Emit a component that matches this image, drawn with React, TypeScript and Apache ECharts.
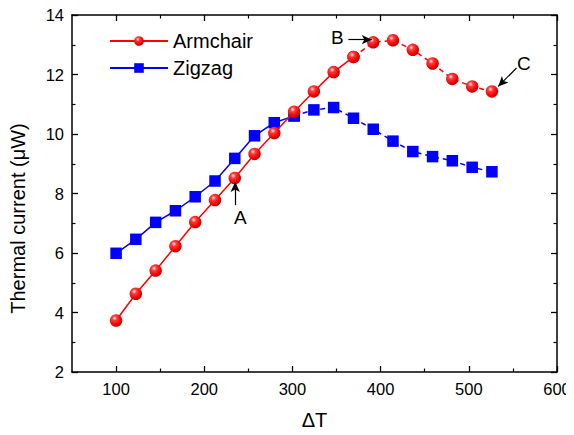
import React, { useEffect, useRef } from "react";
import * as echarts from "echarts";

const xValues = [100, 122.4, 144.9, 167.3, 189.7, 212.2, 234.6, 257, 279.4, 301.9, 324.3, 346.7, 369.2, 391.6, 414, 436.5, 458.9, 481.3, 503.8, 526.2];
const armchair = [3.73, 4.63, 5.41, 6.23, 7.04, 7.78, 8.52, 9.33, 10.03, 10.75, 11.43, 12.08, 12.59, 13.08, 13.15, 12.83, 12.37, 11.85, 11.6, 11.43];
const zigzag = [5.99, 6.46, 7.03, 7.42, 7.89, 8.42, 9.18, 9.94, 10.38, 10.61, 10.81, 10.89, 10.53, 10.16, 9.76, 9.41, 9.24, 9.1, 8.88, 8.73];
const armchairDashFrom = 12;
const zigzagDashFrom = 9;
const xMajor = [100, 200, 300, 400, 500, 600];
const xMinor = [150, 250, 350, 450, 550];
const seriesNames = ["Armchair", "Zigzag"];

const FONT = "Liberation Sans, Arial, sans-serif";
const RED = "#ff0000";
const BLUE = "#0000ff";

const sphere = {
  type: "radial",
  x: 0.38,
  y: 0.32,
  r: 0.7,
  colorStops: [
    { offset: 0, color: "#ffeaea" },
    { offset: 0.28, color: "#ff3a3a" },
    { offset: 0.75, color: "#ee0000" },
    { offset: 1, color: "#c00000" },
  ],
};

function pairs(ys: number[], from: number, to: number) {
  const out: number[][] = [];
  for (let i = from; i <= to; i++) out.push([xValues[i], ys[i]]);
  return out;
}

export default function App() {
  const ref = useRef<HTMLDivElement>(null);
  useEffect(() => {
    if (!ref.current) return;
    const chart = echarts.init(ref.current, undefined, { renderer: "svg" });
    const axisLine = { show: true, onZero: false, lineStyle: { color: "#000", width: 1.5 } };
    const hiddenLine = { show: false };
    const xBase = { type: "value", min: 50, max: 600, splitLine: { show: false } };
    const arrowLine = (from: number[], to: number[]) => [
      { coord: from, symbol: "none" },
      { coord: to, symbol: "arrow", symbolSize: [7, 10] },
    ];
    const textPoint = (name: string, coord: number[]) => ({
      name,
      coord,
      symbolSize: 0,
      label: { show: true, formatter: name, color: "#000", fontSize: 19, fontFamily: FONT, position: "inside" },
    });
    const redMarker = { color: sphere, borderWidth: 0 };
    chart.setOption({
      animation: false,
      grid: { left: 72, right: 17, top: 15, bottom: 63 },
      legend: {
        data: seriesNames,
        orient: "vertical",
        left: 104,
        top: 26,
        itemWidth: 58,
        itemHeight: 12,
        itemGap: 7,
        textStyle: { fontSize: 20, fontFamily: FONT, color: "#000" },
      },
      xAxis: [
        {
          ...xBase,
          position: "bottom",
          name: "ΔT",
          nameLocation: "middle",
          nameGap: 38,
          nameTextStyle: { fontSize: 20, fontFamily: FONT, color: "#000" },
          axisLine,
          axisTick: { show: true, inside: true, length: 6, customValues: xMajor, lineStyle: { color: "#000", width: 1.3 } },
          axisLabel: { show: true, customValues: xMajor, fontSize: 16.5, fontFamily: FONT, color: "#000", margin: 8 },
        },
        {
          ...xBase,
          position: "bottom",
          axisLine: hiddenLine,
          axisTick: { show: true, inside: true, length: 3.5, customValues: xMinor, lineStyle: { color: "#000", width: 1.2 } },
          axisLabel: { show: false },
        },
        {
          ...xBase,
          position: "top",
          axisLine,
          axisTick: { show: true, inside: true, length: 6, customValues: xMajor, lineStyle: { color: "#000", width: 1.3 } },
          axisLabel: { show: false },
        },
        {
          ...xBase,
          position: "top",
          axisLine: hiddenLine,
          axisTick: { show: true, inside: true, length: 3.5, customValues: xMinor, lineStyle: { color: "#000", width: 1.2 } },
          axisLabel: { show: false },
        },
      ],
      yAxis: [
        {
          type: "value",
          min: 2,
          max: 14,
          interval: 2,
          position: "left",
          name: "Thermal current (μW)",
          nameLocation: "middle",
          nameGap: 44,
          nameRotate: 90,
          nameTextStyle: { fontSize: 20, fontFamily: FONT, color: "#000", padding: [0, 50, 0, 0] },
          axisLine,
          axisTick: { show: true, inside: true, length: 6, lineStyle: { color: "#000", width: 1.3 } },
          minorTick: { show: true, splitNumber: 2, length: 3.5, lineStyle: { color: "#000", width: 1.2 } },
          axisLabel: { fontSize: 16.5, fontFamily: FONT, color: "#000", margin: 8 },
          splitLine: { show: false },
        },
        {
          type: "value",
          min: 2,
          max: 14,
          interval: 2,
          position: "right",
          axisLine,
          axisTick: { show: true, inside: true, length: 6, lineStyle: { color: "#000", width: 1.3 } },
          minorTick: { show: true, splitNumber: 2, length: 3.5, lineStyle: { color: "#000", width: 1.2 } },
          axisLabel: { show: false },
          splitLine: { show: false },
        },
      ],
      series: [
        {
          name: "Zigzag",
          type: "line",
          data: pairs(zigzag, 0, zigzagDashFrom),
          symbol: "rect",
          symbolSize: 11.5,
          itemStyle: { color: BLUE },
          lineStyle: { color: BLUE, width: 1.5 },
          z: 2,
        },
        {
          name: "Zigzag-dash",
          type: "line",
          data: pairs(zigzag, zigzagDashFrom, zigzag.length - 1),
          symbol: "rect",
          symbolSize: 11.5,
          itemStyle: { color: BLUE },
          lineStyle: { color: BLUE, width: 1.5, type: [5, 4] },
          z: 2,
        },
        {
          name: "Armchair",
          type: "line",
          data: pairs(armchair, 0, armchairDashFrom),
          symbol: "circle",
          symbolSize: 12.5,
          itemStyle: redMarker,
          lineStyle: { color: RED, width: 1.5 },
          z: 3,
          markLine: {
            silent: true,
            label: { show: false },
            lineStyle: { color: "#000", width: 1.2, type: "solid" },
            data: [
              arrowLine([235.1, 7.61], [235.1, 8.39]),
              arrowLine([363.4, 13.17], [390, 13.17]),
              arrowLine([554.1, 12.22], [533.3, 11.6]),
            ],
          },
          markPoint: {
            silent: true,
            symbol: "circle",
            data: [
              textPoint("A", [240.8, 7.21]),
              textPoint("B", [351, 13.23]),
              textPoint("C", [562.5, 12.36]),
            ],
          },
        },
        {
          name: "Armchair-dash",
          type: "line",
          data: pairs(armchair, armchairDashFrom, armchair.length - 1),
          symbol: "circle",
          symbolSize: 12.5,
          itemStyle: redMarker,
          lineStyle: { color: RED, width: 1.5, type: [5, 4] },
          z: 3,
        },
      ],
    });
    return () => chart.dispose();
  }, []);
  return <div ref={ref} style={{ width: 574, height: 435, margin: -8 }} />;
}
